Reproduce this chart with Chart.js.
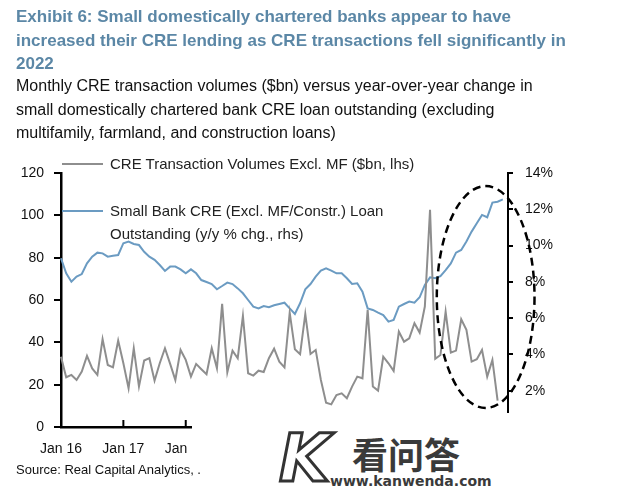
<!DOCTYPE html>
<html>
<head>
<meta charset="utf-8">
<script src="https://cdn.jsdelivr.net/npm/chart.js@4.4.1/dist/chart.umd.min.js"></script>
<style>
  body { margin: 0; background: #fff; }
  #wrap { position: relative; width: 628px; height: 493px; overflow: hidden; font-family: "Liberation Sans", Arial, sans-serif; }
  #chart { position: absolute; left: 0; top: 0; }
  .title { position: absolute; left: 16px; top: 5px; font-size: 17px; font-weight: bold; color: #5b87a6; line-height: 23.5px; white-space: nowrap; }
  .sub { position: absolute; left: 16px; top: 74px; font-size: 16px; color: #111; line-height: 23.5px; white-space: nowrap; }
  .leg { position: absolute; font-size: 15px; color: #222; line-height: 23px; white-space: nowrap; }
  .swatch { position: absolute; height: 2px; }
  .mask { position: absolute; left: 192px; top: 413px; width: 436px; height: 80px; background: #fff; }
  .src { position: absolute; left: 16px; top: 462px; font-size: 13px; color: #111; white-space: nowrap; }
  .wm-k { position: absolute; left: 279px; top: 420px; font-size: 66px; font-weight: bold; font-style: italic; color: #fff; -webkit-text-stroke: 3px #333; font-family: "DejaVu Sans", sans-serif; }
  .wm-cn { position: absolute; left: 352px; top: 435px; font-size: 36px; font-weight: bold; color: #3a3a3a; font-family: "Noto Sans CJK SC", sans-serif; line-height: 36px; }
  .wm-url { position: absolute; left: 330px; top: 473px; font-size: 14px; font-weight: bold; color: #3a3a3a; font-family: "DejaVu Sans", sans-serif; }
</style>
</head>
<body>
<div id="wrap">
  <canvas id="chart" width="628" height="493"></canvas>
  <div class="title">Exhibit 6: Small domestically chartered banks appear to have<br>increased their CRE lending as CRE transactions fell significantly in<br>2022</div>
  <div class="sub">Monthly CRE transaction volumes ($bn) versus year-over-year change in<br>small domestically chartered bank CRE loan outstanding (excluding<br>multifamily, farmland, and construction loans)</div>
  <div class="swatch" style="left:62px; top:163px; width:41px; background:#8e8e8e;"></div>
  <div class="leg" style="left:110px; top:152px;">CRE Transaction Volumes Excl. MF ($bn, lhs)</div>
  <div class="swatch" style="left:62px; top:210px; width:41px; background:#6b9bc2;"></div>
  <div class="leg" style="left:110px; top:199px;">Small Bank CRE (Excl. MF/Constr.) Loan<br>Outstanding (y/y % chg., rhs)</div>
  <div class="mask"></div>
  <div class="src">Source: Real Capital Analytics, .</div>
  <div class="wm-k">K</div>
  <div class="wm-cn">看问答</div>
  <div class="wm-url">www.kanwenda.com</div>
</div>
<script>
// monthly, Jan 2016 onwards
const months = [];
for (let y = 16; y <= 23; y++) {
    ['Jan', 'Feb', 'Mar', 'Apr', 'May', 'Jun', 'Jul', 'Aug', 'Sep', 'Oct', 'Nov', 'Dec'].forEach(m => months.push(m + ' ' + y));
}
const labels = months.slice(0, 87);

// CRE transaction volumes excl. MF, $bn (lhs)
const volumes = [
    33.2, 23.5, 24.6, 22.2, 26.2, 33.6, 27.7, 24.6, 41.5, 29.3, 28.2, 40.8,
    30.1, 18.3, 37.2, 19.1, 31.4, 32.5, 21.9, 30.1, 37.2, 29.8, 22.2, 36.4,
    31.7, 23.8, 29.8, 27.3, 24.9, 37.2, 27.7, 58.2, 25.8, 36.1, 32.5, 52.5,
    25.4, 24.3, 26.6, 26.0, 32.5, 37.0, 30.9, 28.2, 54.0, 36.7, 34.4, 53.4,
    34.5, 36.4, 22.2, 11.5, 10.7, 15.1, 15.9, 13.6, 19.1, 23.8, 23.0, 55.3,
    19.1, 17.2, 33.2, 30.1, 26.5, 45.1, 40.3, 41.9, 49.0, 44.6, 56.9, 102.6,
    32.2, 34.0, 54.5, 35.1, 36.1, 50.9, 45.9, 30.9, 32.0, 36.4, 23.8, 31.7,
    12.5
];

// small bank CRE loans outstanding, y/y % (rhs)
const loanGrowth = [
    9.30, 8.47, 8.01, 8.29, 8.43, 9.02, 9.39, 9.61, 9.57, 9.39, 9.44, 9.48,
    10.13, 10.22, 10.09, 10.03, 9.66, 9.39, 9.21, 8.93, 8.60, 8.84, 8.84, 8.69,
    8.47, 8.69, 8.47, 8.10, 7.99, 7.88, 7.59, 7.77, 7.96, 7.88, 7.64, 7.37,
    7.00, 6.63, 6.54, 6.67, 6.60, 6.71, 6.78, 6.85, 6.54, 6.23, 6.82, 7.59,
    7.88, 8.29, 8.62, 8.75, 8.62, 8.47, 8.47, 8.20, 7.88, 7.92, 7.46, 6.54,
    6.45, 6.30, 6.17, 5.81, 5.90, 6.63, 6.78, 6.91, 6.85, 7.15, 7.83, 8.25,
    8.20, 8.32, 8.65, 9.02, 9.61, 9.76, 10.22, 10.77, 11.23, 11.69, 11.56, 12.37,
    12.42, 12.55
];

const leftTicks = [0, 20, 40, 60, 80, 100, 120];
const rightTicks = [2, 4, 6, 8, 10, 12, 14];

// dashed ellipse around 2022, in month index / lhs units
const ringX = [72.3, 91.1];
const ringY = [9, 113.8];

const ringPlugin = {
    id: 'ring',
    afterDatasetsDraw(chart) {
        const { ctx, scales } = chart;
        const x0 = scales.x.getPixelForValue(ringX[0]);
        const x1 = scales.x.getPixelForValue(ringX[1]);
        const y0 = scales.y.getPixelForValue(ringY[1]);
        const y1 = scales.y.getPixelForValue(ringY[0]);
        ctx.save();
        ctx.strokeStyle = '#000';
        ctx.lineWidth = 2.5;
        ctx.setLineDash([8, 5]);
        ctx.beginPath();
        ctx.ellipse((x0 + x1) / 2, (y0 + y1) / 2, (x1 - x0) / 2, (y1 - y0) / 2, 0, 0, Math.PI * 2);
        ctx.stroke();
        ctx.restore();
    }
};

// x ticks point up into the plot
const innerTicks = {
    id: 'innerTicks',
    afterDraw(chart) {
        const { ctx, scales } = chart;
        const base = scales.y.getPixelForValue(0);
        ctx.save();
        ctx.strokeStyle = '#000';
        ctx.lineWidth = 2;
        labels.forEach((l, i) => {
            if (i % 12 !== 0 || i === 0) return;
            const x = scales.x.getPixelForValue(i);
            ctx.beginPath();
            ctx.moveTo(x, base);
            ctx.lineTo(x, base - 7);
            ctx.stroke();
        });
        ctx.restore();
    }
};

new Chart(document.getElementById('chart'), {
    type: 'line',
    data: {
        labels: labels,
        datasets: [
            {
                label: 'CRE Transaction Volumes Excl. MF ($bn, lhs)',
                data: volumes,
                borderColor: '#8e8e8e',
                borderWidth: 2,
                pointRadius: 0,
                tension: 0,
                yAxisID: 'y',
            },
            {
                label: 'Small Bank CRE (Excl. MF/Constr.) Loan Outstanding (y/y % chg., rhs)',
                data: loanGrowth,
                borderColor: '#6b9bc2',
                borderWidth: 2,
                pointRadius: 0,
                tension: 0,
                yAxisID: 'y1',
            }
        ]
    },
    options: {
        responsive: false,
        animation: false,
        layout: { padding: { top: 173, left: 0, right: 0, bottom: 0 } },
        plugins: {
            legend: { display: false },
            tooltip: { enabled: false },
        },
        scales: {
            x: {
                offset: false,
                grid: { display: false, drawTicks: false },
                border: { color: '#000', width: 2.5 },
                ticks: {
                    autoSkip: false,
                    maxRotation: 0,
                    padding: 14,
                    color: '#111',
                    font: { family: 'Liberation Sans', size: 14 },
                    callback: (v, i) => (i % 12 === 0 ? labels[i] : null),
                },
                afterFit: s => { s.height = 66; },
            },
            y: {
                position: 'left',
                min: 0,
                max: 120,
                afterBuildTicks: s => { s.ticks = leftTicks.map(v => ({ value: v })); },
                grid: { drawOnChartArea: false, tickLength: 7, color: '#000', lineWidth: 2 },
                border: { color: '#000', width: 2.5 },
                ticks: { padding: 10, color: '#111', font: { family: 'Liberation Sans', size: 14 } },
                afterFit: s => { s.width = 61; },
            },
            y1: {
                position: 'right',
                min: 0,
                max: 14,
                afterBuildTicks: s => { s.ticks = rightTicks.map(v => ({ value: v })); },
                grid: { drawOnChartArea: false, tickLength: 5, color: '#000', lineWidth: 2 },
                border: { color: '#000', width: 2 },
                ticks: {
                    padding: 12,
                    color: '#111',
                    font: { family: 'Liberation Sans', size: 14 },
                    callback: v => v + '%',
                },
                afterFit: s => { s.width = 120; },
            }
        }
    },
    plugins: [ringPlugin, innerTicks]
});
</script>
</body>
</html>
